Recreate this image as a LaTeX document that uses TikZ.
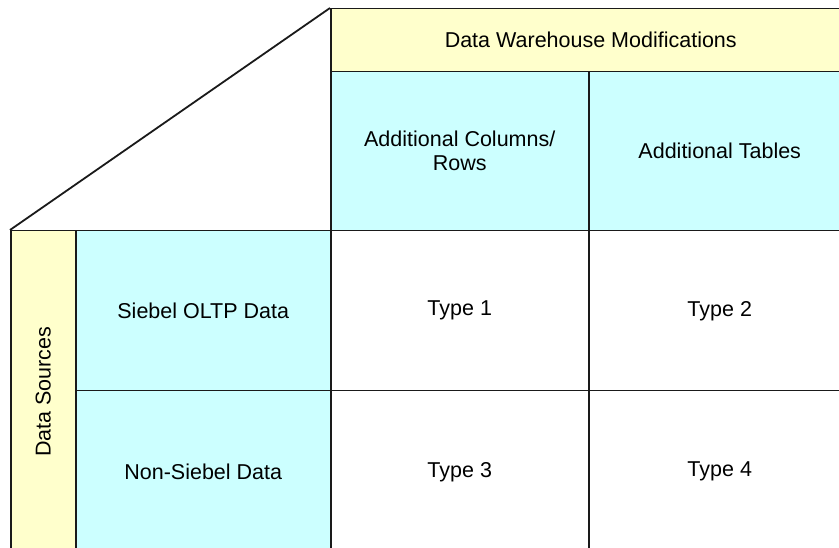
\documentclass[tikz,border=0pt]{standalone}
\usepackage{fontspec}
\setmainfont{Liberation Sans}
\definecolor{hdryellow}{HTML}{FFFFCC}
\definecolor{hdrcyan}{HTML}{CCFFFF}
\definecolor{linegray}{HTML}{1A1A1A}
\begin{document}
\begin{tikzpicture}[x=1pt,y=-1pt,
  cell/.style={draw=linegray, line width=1.5pt, anchor=north west, inner sep=0pt,
    align=center, font=\fontsize{21.5}{24}\selectfont, text=black},
  yel/.style={cell, fill=hdryellow},
  cya/.style={cell, fill=hdrcyan},
  wht/.style={cell, fill=white}]
\useasboundingbox (0,0) rectangle (839,548);
% header
\node[yel, minimum width=520pt, minimum height=63pt] (wh) at (330,8) {Data Warehouse Modifications};
\node[cya, minimum width=258pt, minimum height=159pt] (cols) at (330,71) {Additional Columns/\\Rows};
\node[cya, minimum width=262pt, minimum height=159pt] (tabs) at (588,71) {Additional Tables};
% left side
\node[yel, minimum width=65pt, minimum height=322pt] (ds) at (10,230) {};
\node[rotate=90, font=\fontsize{21.5}{24}\selectfont, text=black] (dslabel) at (ds.center) {Data Sources};
\node[cya, minimum width=255pt, minimum height=160pt] (oltp) at (75,230) {Siebel OLTP Data};
\node[cya, minimum width=255pt, minimum height=162pt] (non) at (75,390) {Non-Siebel Data};
% body
\node[wht, minimum width=258pt, minimum height=160pt] (t1) at (330,230) {Type 1};
\node[wht, minimum width=262pt, minimum height=160pt] (t2) at (588,230) {Type 2};
\node[wht, minimum width=258pt, minimum height=162pt] (t3) at (330,390) {Type 3};
\node[wht, minimum width=262pt, minimum height=162pt] (t4) at (588,390) {Type 4};
% diagonal
\draw[linegray, line width=1.8pt] (ds.north west) -- (wh.north west);
\end{tikzpicture}
\end{document}
